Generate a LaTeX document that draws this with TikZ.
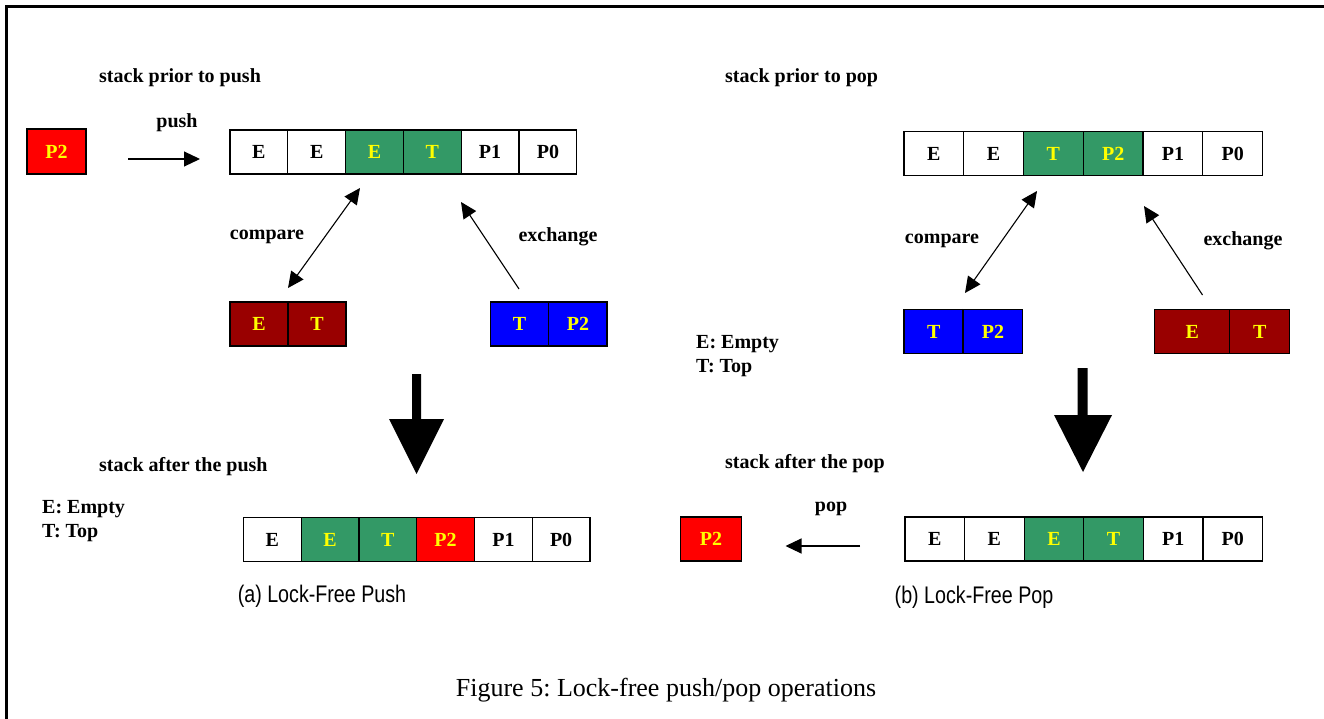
\documentclass[tikz,border=0pt]{standalone}
\usepackage{fontspec}
\setmainfont{Liberation Serif}
\newfontfamily\capfont[FakeStretch=0.82]{Liberation Sans}
\usetikzlibrary{arrows.meta}
\frenchspacing

\definecolor{cellgreen}{RGB}{51,153,102}
\definecolor{celldark}{RGB}{153,0,0}
\definecolor{cellblue}{RGB}{0,0,255}
\definecolor{cellred}{RGB}{255,0,0}
\definecolor{txtyellow}{RGB}{255,255,0}

\tikzset{
  cell/.style={draw=black, line width=1.3pt, inner sep=0pt,
    minimum height=44pt,
    font=\fontsize{20}{24}\selectfont\bfseries},
  plain/.style={cell, fill=white, text=black, minimum width=#1},
  plain/.default=58pt,
  green/.style={cell, fill=cellgreen, text=txtyellow, minimum width=#1},
  green/.default=58pt,
  dark/.style={cell, fill=celldark, text=txtyellow, minimum width=#1},
  dark/.default=58pt,
  bluec/.style={cell, fill=cellblue, text=txtyellow, minimum width=#1},
  bluec/.default=58pt,
  redc/.style={cell, fill=cellred, text=txtyellow, minimum width=#1},
  redc/.default=58pt,
  divider/.style={draw=black, line width=1.3pt},
  lbl/.style={inner sep=0pt, font=\fontsize{20}{24}\selectfont\bfseries},
  sublbl/.style={inner sep=0pt, font=\capfont\fontsize{24}{28}\selectfont},
  figlbl/.style={inner sep=0pt, font=\fontsize{26}{30}\selectfont},
  thin/.style={line width=1.1pt, -{Triangle[length=16pt,width=15pt]}},
  thinboth/.style={line width=1.1pt, {Triangle[length=16pt,width=15pt]}-{Triangle[length=16pt,width=15pt]}},
}

\begin{document}
\begin{tikzpicture}[x=1pt, y=-1pt]
\useasboundingbox (0,0) rectangle (1324,719);

% outer frame (only top and left edges fall inside the page)
\draw[line width=2.2pt] (6.5,719) -- (6.5,6.5) -- (1324,6.5);

% ---------------- (a) push ----------------
\node[lbl, anchor=west] (tPushPrior) at (99,78) {stack prior to push};
\node[redc=59pt, minimum height=45pt] (aP2) at (56.5,151.5) {P2};
\node[lbl] (tPush) at (177,123) {push};

\node[plain=57.8pt] (a1) at (258.9,152) {E};
\node[plain=57.8pt] (a2) at (316.7,152) {E};
\node[green=57.8pt] (a3) at (374.5,152) {E};
\node[green=57.8pt] (a4) at (432.3,152) {T};
\node[plain=57.8pt] (a5) at (490.1,152) {P1};
\node[plain=57.8pt] (a6) at (547.9,152) {P0};

\node[dark] (aCE) at (259,324) {E};
\node[dark] (aCT) at (317,324) {T};
\node[bluec=58.25pt] (aXT) at (519.6,324) {T};
\node[bluec=58.25pt] (aXP) at (577.9,324) {P2};

\coordinate (aPushS) at (128,159);
\coordinate (aPushE) at (200,159);
\draw[thin] (aPushS) -- (aPushE);

\coordinate (aCmpTop) at (360,188);
\coordinate (aCmpBot) at (288,288);
\draw[thinboth] (aCmpBot) -- (aCmpTop);
\node[lbl] (tCmpA) at (267,237) {compare};

\coordinate (aXchS) at (519,289);
\coordinate (aXchE) at (461,202);
\draw[thin] (aXchS) -- (aXchE);
\node[lbl] (tXchA) at (558,237) {exchange};

% big down arrow
\fill (412,374) -- (421,374) -- (421,419) -- (444,419) -- (416.5,474)
      -- (389,419) -- (412,419) -- cycle;

\node[lbl, anchor=west] (tPushAfter) at (99,467) {stack after the push};
\node[lbl, anchor=west] (tLegEA) at (42,509) {E: Empty};
\node[lbl, anchor=west] (tLegTA) at (42,533) {T: Top};

\begin{scope}[every node/.append style={minimum height=43pt}]
\node[plain=57.75pt] (b1) at (272.4,539.5) {E};
\node[green=57.75pt] (b2) at (330.1,539.5) {E};
\node[green=57.75pt] (b3) at (387.9,539.5) {T};
\node[redc=57.75pt] (b4) at (445.6,539.5) {P2};
\node[plain=57.75pt] (b5) at (503.4,539.5) {P1};
\node[plain=57.75pt] (b6) at (561.1,539.5) {P0};
\end{scope}

\node[sublbl] (capA) at (322,596) {(a) Lock-Free Push};

% ---------------- (b) pop ----------------
\node[lbl, anchor=west] (tPopPrior) at (725,78) {stack prior to pop};

\begin{scope}[every node/.append style={minimum height=45pt}]
\node[plain=59.77pt] (c1) at (933.9,153.5) {E};
\node[plain=59.77pt] (c2) at (993.6,153.5) {E};
\node[green=59.77pt] (c3) at (1053.4,153.5) {T};
\node[green=59.77pt] (c4) at (1113.2,153.5) {P2};
\node[plain=59.77pt] (c5) at (1173.0,153.5) {P1};
\node[plain=59.77pt] (c6) at (1232.7,153.5) {P0};

\node[bluec=59.35pt] (cCT) at (933.7,331.5) {T};
\node[bluec=59.35pt] (cCP) at (993.0,331.5) {P2};
\node[dark=75pt] (cXE) at (1192.2,331.5) {E};
\node[dark=60pt] (cXT) at (1259.7,331.5) {T};
\end{scope}
\draw[divider] (cCP.north west) -- (cCP.south west);

\coordinate (cCmpTop) at (1037,191);
\coordinate (cCmpBot) at (965,293);
\draw[thinboth] (cCmpBot) -- (cCmpTop);
\node[lbl] (tCmpB) at (942,241) {compare};

\coordinate (cXchS) at (1202.5,295);
\coordinate (cXchE) at (1144,206);
\draw[thin] (cXchS) -- (cXchE);
\node[lbl] (tXchB) at (1243,241) {exchange};

\node[lbl, anchor=west] (tLegEB) at (696,344) {E: Empty};
\node[lbl, anchor=west] (tLegTB) at (696,368) {T: Top};

% big down arrow
\fill (1077.5,368) -- (1087.5,368) -- (1087.5,415) -- (1112,415) -- (1083,472)
      -- (1054,415) -- (1077.5,415) -- cycle;

\node[lbl, anchor=west] (tPopAfter) at (725,464) {stack after the pop};
\node[lbl] (tPop) at (831,509) {pop};
\node[redc=61pt] (dP2) at (710.9,539) {P2};

\coordinate (dPopS) at (860,546);
\coordinate (dPopE) at (785.5,546);
\draw[thin] (dPopS) -- (dPopE);

\node[plain=59.6pt] (d1) at (934.8,539) {E};
\node[plain=59.6pt] (d2) at (994.4,539) {E};
\node[green=59.6pt] (d3) at (1054.0,539) {E};
\node[green=59.6pt] (d4) at (1113.6,539) {T};
\node[plain=59.6pt] (d5) at (1173.2,539) {P1};
\node[plain=59.6pt] (d6) at (1232.8,539) {P0};

\node[sublbl] (capB) at (974,597) {(b) Lock-Free Pop};

\node[figlbl] (figCap) at (666,690) {Figure 5: Lock-free push/pop operations};
\end{tikzpicture}
\end{document}
